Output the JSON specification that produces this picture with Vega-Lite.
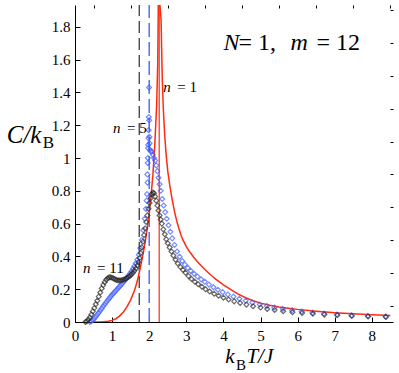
{
  "$schema": "https://vega.github.io/schema/vega-lite/v6.json",
  "autosize": "none",
  "width": 318,
  "height": 317,
  "padding": {"left": 75, "top": 5, "right": 6, "bottom": 51},
  "background": "white",
  "datasets": {
    "red": [
      {"T": 0.5, "C": 0.0}, {"T": 0.7, "C": 0.0005}, {"T": 0.9, "C": 0.004}, {"T": 1.0, "C": 0.01},
      {"T": 1.1, "C": 0.02}, {"T": 1.2, "C": 0.036}, {"T": 1.3, "C": 0.06}, {"T": 1.4, "C": 0.092},
      {"T": 1.5, "C": 0.135}, {"T": 1.6, "C": 0.19}, {"T": 1.66, "C": 0.235}, {"T": 1.7, "C": 0.27},
      {"T": 1.75, "C": 0.32}, {"T": 1.8, "C": 0.375}, {"T": 1.85, "C": 0.435}, {"T": 1.9, "C": 0.5},
      {"T": 1.95, "C": 0.575}, {"T": 2.0, "C": 0.66}, {"T": 2.05, "C": 0.77}, {"T": 2.1, "C": 0.9},
      {"T": 2.15, "C": 1.08}, {"T": 2.2, "C": 1.32}, {"T": 2.23, "C": 1.58}, {"T": 2.25, "C": 2.05},
      {"T": 2.32, "C": 1.84}, {"T": 2.35, "C": 1.5}, {"T": 2.38, "C": 1.3}, {"T": 2.42, "C": 1.13},
      {"T": 2.46, "C": 1.01}, {"T": 2.5, "C": 0.92}, {"T": 2.55, "C": 0.84}, {"T": 2.6, "C": 0.77},
      {"T": 2.65, "C": 0.71}, {"T": 2.7, "C": 0.655}, {"T": 2.75, "C": 0.61}, {"T": 2.8, "C": 0.57},
      {"T": 2.85, "C": 0.535}, {"T": 2.9, "C": 0.505}, {"T": 3.0, "C": 0.46}, {"T": 3.1, "C": 0.425},
      {"T": 3.2, "C": 0.395}, {"T": 3.3, "C": 0.368}, {"T": 3.4, "C": 0.343}, {"T": 3.5, "C": 0.32},
      {"T": 3.6, "C": 0.299}, {"T": 3.7, "C": 0.279}, {"T": 3.8, "C": 0.26}, {"T": 3.9, "C": 0.243},
      {"T": 4.0, "C": 0.227}, {"T": 4.2, "C": 0.197}, {"T": 4.4, "C": 0.17}, {"T": 4.6, "C": 0.148},
      {"T": 4.8, "C": 0.13}, {"T": 5.0, "C": 0.115}, {"T": 5.25, "C": 0.102}, {"T": 5.5, "C": 0.092},
      {"T": 5.75, "C": 0.084}, {"T": 6.0, "C": 0.077}, {"T": 6.5, "C": 0.066}, {"T": 7.0, "C": 0.057},
      {"T": 7.5, "C": 0.05}, {"T": 8.0, "C": 0.044}, {"T": 8.5, "C": 0.039}
    ],
    "n5": [
      {"T": 0.4, "C": 0.0}, {"T": 0.44, "C": 0.005}, {"T": 0.48, "C": 0.012}, {"T": 0.52, "C": 0.022},
      {"T": 0.56, "C": 0.033}, {"T": 0.6, "C": 0.045}, {"T": 0.64, "C": 0.057}, {"T": 0.68, "C": 0.07},
      {"T": 0.72, "C": 0.083}, {"T": 0.76, "C": 0.096}, {"T": 0.8, "C": 0.108}, {"T": 0.84, "C": 0.12},
      {"T": 0.88, "C": 0.132}, {"T": 0.92, "C": 0.144}, {"T": 0.96, "C": 0.155}, {"T": 1.0, "C": 0.166},
      {"T": 1.04, "C": 0.176}, {"T": 1.08, "C": 0.186}, {"T": 1.12, "C": 0.196}, {"T": 1.16, "C": 0.206},
      {"T": 1.2, "C": 0.216}, {"T": 1.24, "C": 0.226}, {"T": 1.28, "C": 0.237}, {"T": 1.32, "C": 0.248},
      {"T": 1.36, "C": 0.259}, {"T": 1.4, "C": 0.27}, {"T": 1.44, "C": 0.282}, {"T": 1.48, "C": 0.295},
      {"T": 1.52, "C": 0.309}, {"T": 1.56, "C": 0.324}, {"T": 1.6, "C": 0.34}, {"T": 1.64, "C": 0.358},
      {"T": 1.68, "C": 0.38}, {"T": 1.72, "C": 0.41}, {"T": 1.76, "C": 0.45}, {"T": 1.8, "C": 0.5},
      {"T": 1.84, "C": 0.56}, {"T": 1.88, "C": 0.63}, {"T": 1.91, "C": 0.69}, {"T": 1.93, "C": 0.74},
      {"T": 1.94, "C": 0.78}, {"T": 1.95, "C": 0.9}, {"T": 1.955, "C": 0.85}, {"T": 1.96, "C": 0.97},
      {"T": 1.965, "C": 1.0}, {"T": 1.97, "C": 1.06}, {"T": 1.975, "C": 1.08}, {"T": 1.98, "C": 1.12},
      {"T": 1.985, "C": 1.17}, {"T": 1.99, "C": 1.25}, {"T": 1.995, "C": 1.43}, {"T": 2.0, "C": 1.23},
      {"T": 2.005, "C": 1.13}, {"T": 2.01, "C": 1.09}, {"T": 2.02, "C": 1.05}, {"T": 2.04, "C": 1.04},
      {"T": 2.07, "C": 1.04}, {"T": 2.1, "C": 1.02}, {"T": 2.13, "C": 1.0}, {"T": 2.16, "C": 0.985},
      {"T": 2.19, "C": 0.955}, {"T": 2.22, "C": 0.92}, {"T": 2.25, "C": 0.88}, {"T": 2.28, "C": 0.84},
      {"T": 2.31, "C": 0.8}, {"T": 2.35, "C": 0.75}, {"T": 2.39, "C": 0.71}, {"T": 2.43, "C": 0.67},
      {"T": 2.47, "C": 0.63}, {"T": 2.52, "C": 0.59}, {"T": 2.57, "C": 0.55}, {"T": 2.62, "C": 0.51},
      {"T": 2.68, "C": 0.47}, {"T": 2.75, "C": 0.43}, {"T": 2.82, "C": 0.398}, {"T": 2.89, "C": 0.372},
      {"T": 2.96, "C": 0.35}, {"T": 3.04, "C": 0.33}, {"T": 3.12, "C": 0.312}, {"T": 3.21, "C": 0.294},
      {"T": 3.3, "C": 0.277}, {"T": 3.4, "C": 0.26}, {"T": 3.5, "C": 0.245}, {"T": 3.61, "C": 0.228},
      {"T": 3.73, "C": 0.212}, {"T": 3.85, "C": 0.197}, {"T": 3.98, "C": 0.182}, {"T": 4.12, "C": 0.168},
      {"T": 4.27, "C": 0.155}, {"T": 4.43, "C": 0.142}, {"T": 4.6, "C": 0.13}, {"T": 4.78, "C": 0.118},
      {"T": 4.98, "C": 0.107}, {"T": 5.17, "C": 0.097}, {"T": 5.37, "C": 0.088}, {"T": 5.6, "C": 0.079},
      {"T": 5.85, "C": 0.071}, {"T": 6.11, "C": 0.064}, {"T": 6.4, "C": 0.057}, {"T": 6.71, "C": 0.051},
      {"T": 7.06, "C": 0.046}, {"T": 7.45, "C": 0.041}, {"T": 7.89, "C": 0.037}, {"T": 8.37, "C": 0.033}
    ],
    "n11": [
      {"T": 0.28, "C": 0.0}, {"T": 0.32, "C": 0.005}, {"T": 0.36, "C": 0.015}, {"T": 0.4, "C": 0.028},
      {"T": 0.44, "C": 0.045}, {"T": 0.48, "C": 0.065}, {"T": 0.52, "C": 0.085}, {"T": 0.56, "C": 0.108},
      {"T": 0.6, "C": 0.13}, {"T": 0.64, "C": 0.155}, {"T": 0.68, "C": 0.18}, {"T": 0.72, "C": 0.205},
      {"T": 0.76, "C": 0.225}, {"T": 0.8, "C": 0.243}, {"T": 0.84, "C": 0.257}, {"T": 0.88, "C": 0.267},
      {"T": 0.92, "C": 0.272}, {"T": 0.96, "C": 0.273}, {"T": 1.0, "C": 0.27}, {"T": 1.04, "C": 0.265},
      {"T": 1.08, "C": 0.26}, {"T": 1.12, "C": 0.256}, {"T": 1.16, "C": 0.254}, {"T": 1.2, "C": 0.253},
      {"T": 1.24, "C": 0.254}, {"T": 1.28, "C": 0.256}, {"T": 1.32, "C": 0.259}, {"T": 1.36, "C": 0.263},
      {"T": 1.4, "C": 0.268}, {"T": 1.44, "C": 0.274}, {"T": 1.48, "C": 0.281}, {"T": 1.52, "C": 0.29},
      {"T": 1.56, "C": 0.3}, {"T": 1.6, "C": 0.312}, {"T": 1.64, "C": 0.326}, {"T": 1.68, "C": 0.345},
      {"T": 1.71, "C": 0.365}, {"T": 1.74, "C": 0.39}, {"T": 1.77, "C": 0.42}, {"T": 1.8, "C": 0.455},
      {"T": 1.83, "C": 0.49}, {"T": 1.86, "C": 0.53}, {"T": 1.89, "C": 0.57}, {"T": 1.92, "C": 0.61},
      {"T": 1.95, "C": 0.65}, {"T": 1.98, "C": 0.69}, {"T": 2.01, "C": 0.725}, {"T": 2.04, "C": 0.755},
      {"T": 2.07, "C": 0.78}, {"T": 2.1, "C": 0.79}, {"T": 2.13, "C": 0.785}, {"T": 2.16, "C": 0.765},
      {"T": 2.19, "C": 0.74}, {"T": 2.22, "C": 0.71}, {"T": 2.25, "C": 0.68}, {"T": 2.28, "C": 0.65},
      {"T": 2.31, "C": 0.625}, {"T": 2.34, "C": 0.6}, {"T": 2.38, "C": 0.565}, {"T": 2.42, "C": 0.535},
      {"T": 2.46, "C": 0.505}, {"T": 2.5, "C": 0.48}, {"T": 2.55, "C": 0.455}, {"T": 2.6, "C": 0.43},
      {"T": 2.65, "C": 0.405}, {"T": 2.71, "C": 0.38}, {"T": 2.77, "C": 0.357}, {"T": 2.84, "C": 0.335},
      {"T": 2.91, "C": 0.318}, {"T": 2.98, "C": 0.3}, {"T": 3.06, "C": 0.28}, {"T": 3.14, "C": 0.262},
      {"T": 3.23, "C": 0.245}, {"T": 3.32, "C": 0.23}, {"T": 3.42, "C": 0.215}, {"T": 3.52, "C": 0.2},
      {"T": 3.63, "C": 0.186}, {"T": 3.75, "C": 0.172}, {"T": 3.87, "C": 0.16}, {"T": 4.0, "C": 0.148},
      {"T": 4.14, "C": 0.137}, {"T": 4.29, "C": 0.126}, {"T": 4.45, "C": 0.116}, {"T": 4.62, "C": 0.106},
      {"T": 4.8, "C": 0.096}, {"T": 5.0, "C": 0.088}, {"T": 5.18, "C": 0.08}, {"T": 5.38, "C": 0.073},
      {"T": 5.61, "C": 0.066}, {"T": 5.86, "C": 0.06}, {"T": 6.12, "C": 0.055}, {"T": 6.41, "C": 0.05},
      {"T": 6.72, "C": 0.045}, {"T": 7.07, "C": 0.041}, {"T": 7.46, "C": 0.037}, {"T": 7.9, "C": 0.034},
      {"T": 8.38, "C": 0.031}
    ]
  },
  "resolve": {"axis": {"x": "independent", "y": "independent"}},
  "layer": [
    {
      "data": {"values": [{}]},
      "mark": {"type": "rule", "color": "black", "strokeWidth": 1, "strokeDash": [12, 5]},
      "encoding": {
        "x": {"datum": 1.73, "type": "quantitative", "axis": null},
        "y": {"datum": 0, "type": "quantitative", "axis": null},
        "y2": {"datum": 1.933}
      }
    },
    {
      "data": {"values": [{}]},
      "mark": {"type": "rule", "color": "#4f6fff", "strokeWidth": 1.5, "strokeDash": [14, 5]},
      "encoding": {
        "x": {"datum": 2.0, "type": "quantitative", "axis": null},
        "y": {"datum": 0, "type": "quantitative", "axis": null},
        "y2": {"datum": 1.933}
      }
    },
    {
      "data": {"values": [{}]},
      "mark": {"type": "rule", "color": "#ff2a10", "strokeWidth": 1.2},
      "encoding": {
        "x": {"datum": 2.269, "type": "quantitative", "axis": null},
        "y": {"datum": 0, "type": "quantitative", "axis": null},
        "y2": {"datum": 1.933}
      }
    },
    {
      "data": {"name": "red"},
      "mark": {"type": "line", "color": "#ff2a10", "strokeWidth": 1.5, "clip": true},
      "encoding": {
        "x": {
          "field": "T", "type": "quantitative",
          "scale": {"domain": [0, 8.57], "nice": false, "zero": false},
          "axis": {
            "title": null,
            "values": [0, 1, 2, 3, 4, 5, 6, 7, 8],
            "format": "d",
            "tickSize": -5,
            "labelPadding": 11
          }
        },
        "y": {
          "field": "C", "type": "quantitative",
          "scale": {"domain": [0, 1.933], "nice": false, "zero": false},
          "axis": {
            "title": null,
            "values": [0, 0.2, 0.4, 0.6, 0.8, 1, 1.2, 1.4, 1.6, 1.8],
            "format": ".1~f",
            "tickSize": -5,
            "labelPadding": 10
          }
        }
      }
    },
    {
      "data": {"name": "n5"},
      "mark": {"type": "point", "shape": "diamond", "filled": false, "color": "#3d5cff", "size": 24, "strokeWidth": 1.2},
      "encoding": {
        "x": {
          "field": "T", "type": "quantitative",
          "axis": {"title": null, "values": [0.5, 1.5, 2.5, 3.5, 4.5, 5.5, 6.5, 7.5, 8.5], "labels": false, "domain": false, "tickSize": -3}
        },
        "y": {
          "field": "C", "type": "quantitative",
          "axis": {"title": null, "values": [0.1, 0.3, 0.5, 0.7, 0.9, 1.1, 1.3, 1.5, 1.7, 1.9], "labels": false, "domain": false, "tickSize": -3}
        }
      }
    },
    {
      "data": {"name": "n11"},
      "mark": {"type": "point", "shape": "diamond", "filled": false, "color": "#2a2a2a", "size": 24, "strokeWidth": 1.2},
      "encoding": {
        "x": {"field": "T", "type": "quantitative", "axis": null},
        "y": {"field": "C", "type": "quantitative", "axis": null}
      }
    },
    {
      "data": {"values": [{}]},
      "mark": {"type": "text", "text": "N", "font": "Liberation Serif", "fontStyle": "italic", "fontSize": 24, "align": "left", "baseline": "alphabetic", "color": "black"},
      "encoding": {"x": {"datum": 4.0, "type": "quantitative", "axis": null}, "y": {"datum": 1.659, "type": "quantitative", "axis": null}}
    },
    {
      "data": {"values": [{}]},
      "mark": {"type": "text", "text": "= 1,", "font": "Liberation Serif", "fontSize": 24, "align": "left", "baseline": "alphabetic", "color": "black"},
      "encoding": {"x": {"datum": 4.405, "type": "quantitative", "axis": null}, "y": {"datum": 1.659, "type": "quantitative", "axis": null}}
    },
    {
      "data": {"values": [{}]},
      "mark": {"type": "text", "text": "m", "font": "Liberation Serif", "fontStyle": "italic", "fontSize": 24, "align": "left", "baseline": "alphabetic", "color": "black"},
      "encoding": {"x": {"datum": 5.81, "type": "quantitative", "axis": null}, "y": {"datum": 1.659, "type": "quantitative", "axis": null}}
    },
    {
      "data": {"values": [{}]},
      "mark": {"type": "text", "text": "= 12", "font": "Liberation Serif", "fontSize": 24, "align": "left", "baseline": "alphabetic", "color": "black"},
      "encoding": {"x": {"datum": 6.51, "type": "quantitative", "axis": null}, "y": {"datum": 1.659, "type": "quantitative", "axis": null}}
    },
    {
      "data": {"values": [{}]},
      "mark": {"type": "text", "text": "n", "font": "Liberation Serif", "fontStyle": "italic", "fontSize": 15, "align": "left", "baseline": "alphabetic", "color": "black"},
      "encoding": {"x": {"datum": 2.38, "type": "quantitative", "axis": null}, "y": {"datum": 1.40, "type": "quantitative", "axis": null}}
    },
    {
      "data": {"values": [{}]},
      "mark": {"type": "text", "text": "= 1", "font": "Liberation Serif", "fontSize": 15, "align": "left", "baseline": "alphabetic", "color": "black"},
      "encoding": {"x": {"datum": 2.757, "type": "quantitative", "axis": null}, "y": {"datum": 1.40, "type": "quantitative", "axis": null}}
    },
    {
      "data": {"values": [{}]},
      "mark": {"type": "text", "text": "n", "font": "Liberation Serif", "fontStyle": "italic", "fontSize": 15, "align": "left", "baseline": "alphabetic", "color": "black"},
      "encoding": {"x": {"datum": 1.024, "type": "quantitative", "axis": null}, "y": {"datum": 1.15, "type": "quantitative", "axis": null}}
    },
    {
      "data": {"values": [{}]},
      "mark": {"type": "text", "text": "= 5", "font": "Liberation Serif", "fontSize": 15, "align": "left", "baseline": "alphabetic", "color": "black"},
      "encoding": {"x": {"datum": 1.40, "type": "quantitative", "axis": null}, "y": {"datum": 1.15, "type": "quantitative", "axis": null}}
    },
    {
      "data": {"values": [{}]},
      "mark": {"type": "text", "text": "n", "font": "Liberation Serif", "fontStyle": "italic", "fontSize": 15, "align": "left", "baseline": "alphabetic", "color": "black"},
      "encoding": {"x": {"datum": 0.215, "type": "quantitative", "axis": null}, "y": {"datum": 0.299, "type": "quantitative", "axis": null}}
    },
    {
      "data": {"values": [{}]},
      "mark": {"type": "text", "text": "= 11", "font": "Liberation Serif", "fontSize": 15, "align": "left", "baseline": "alphabetic", "color": "black"},
      "encoding": {"x": {"datum": 0.593, "type": "quantitative", "axis": null}, "y": {"datum": 0.299, "type": "quantitative", "axis": null}}
    },
    {
      "data": {"values": [{}]},
      "mark": {"type": "text", "text": "C/k", "font": "Liberation Serif", "fontStyle": "italic", "fontSize": 25, "align": "left", "baseline": "alphabetic", "color": "black"},
      "encoding": {"x": {"datum": -1.84, "type": "quantitative", "axis": null}, "y": {"datum": 1.09, "type": "quantitative", "axis": null}}
    },
    {
      "data": {"values": [{}]},
      "mark": {"type": "text", "text": "B", "font": "Liberation Serif", "fontSize": 17, "align": "left", "baseline": "alphabetic", "color": "black"},
      "encoding": {"x": {"datum": -0.87, "type": "quantitative", "axis": null}, "y": {"datum": 1.06, "type": "quantitative", "axis": null}}
    },
    {
      "data": {"values": [{}]},
      "mark": {"type": "text", "text": "k", "font": "Liberation Serif", "fontStyle": "italic", "fontSize": 21, "align": "left", "baseline": "alphabetic", "color": "black"},
      "encoding": {"x": {"datum": 4.05, "type": "quantitative", "axis": null}, "y": {"datum": -0.252, "type": "quantitative", "axis": null}}
    },
    {
      "data": {"values": [{}]},
      "mark": {"type": "text", "text": "B", "font": "Liberation Serif", "fontSize": 15, "align": "left", "baseline": "alphabetic", "color": "black"},
      "encoding": {"x": {"datum": 4.34, "type": "quantitative", "axis": null}, "y": {"datum": -0.295, "type": "quantitative", "axis": null}}
    },
    {
      "data": {"values": [{}]},
      "mark": {"type": "text", "text": "T/J", "font": "Liberation Serif", "fontStyle": "italic", "fontSize": 21, "align": "left", "baseline": "alphabetic", "color": "black"},
      "encoding": {"x": {"datum": 4.62, "type": "quantitative", "axis": null}, "y": {"datum": -0.252, "type": "quantitative", "axis": null}}
    }
  ],
  "config": {
    "view": {"stroke": null},
    "axis": {
      "grid": false,
      "domainColor": "black",
      "domainWidth": 1,
      "tickColor": "black",
      "tickWidth": 1,
      "labelFont": "Liberation Serif",
      "labelFontSize": 15,
      "labelColor": "black",
      "labelOverlap": false,
      "labelFlush": false,
      "labelBound": false
    }
  }
}
